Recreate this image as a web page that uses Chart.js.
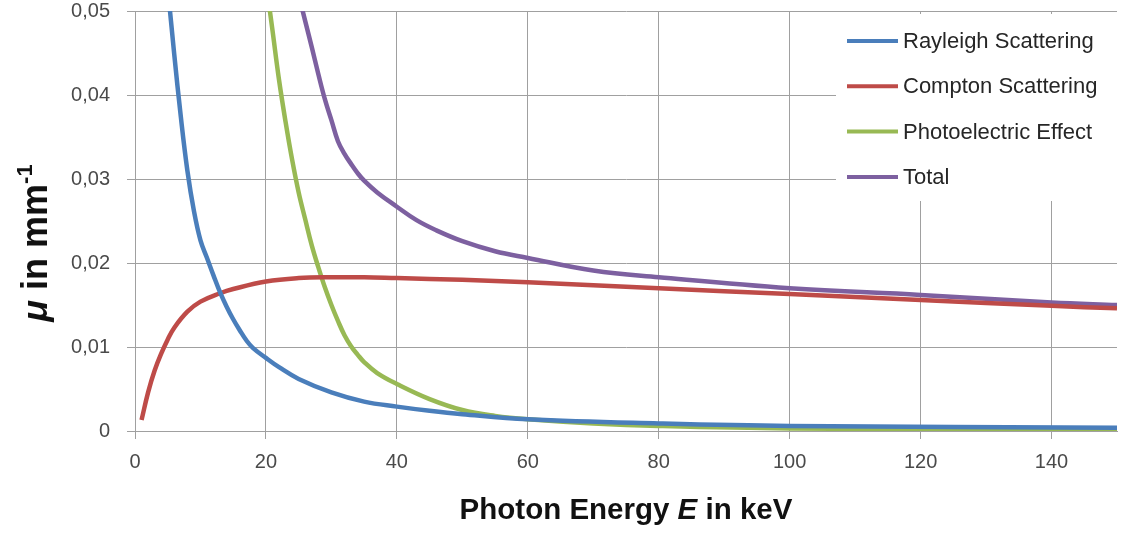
<!DOCTYPE html>
<html lang="en">
<head>
<meta charset="UTF-8">
<title>Attenuation coefficients</title>
<script src="https://cdn.jsdelivr.net/npm/chart.js"></script>
<style>
  html, body { margin: 0; padding: 0; background: #fff; }
</style>
</head>
<body>
<canvas id="muChart" width="1121" height="533"></canvas>
<script>
// photon energy (keV) and linear attenuation coefficient (1/mm) per interaction
const rayleighEnergy = [5, 6, 7, 8, 9, 10, 11, 12, 13, 14, 15, 16, 17, 18, 20, 22, 25, 30, 35, 40, 45, 50, 60, 80, 100, 150];
const rayleighMu = [0.0528, 0.0448, 0.0374, 0.0310, 0.0262, 0.0227, 0.0206, 0.0185, 0.0165, 0.0148, 0.0133, 0.0120, 0.0108, 0.0099, 0.0087, 0.0076, 0.0062, 0.0046, 0.0035, 0.0029, 0.0024, 0.0020, 0.0014, 0.0009, 0.0006, 0.0004];

const comptonEnergy = [1, 2, 3, 4, 5, 6, 8, 10, 13, 15, 20, 25, 30, 35, 40, 50, 60, 80, 100, 120, 140, 150];
const comptonMu = [0.0013, 0.0046, 0.0072, 0.0092, 0.0109, 0.0123, 0.0142, 0.0154, 0.0164, 0.0169, 0.0178, 0.0182, 0.0183, 0.0183, 0.0182, 0.0180, 0.0177, 0.0170, 0.0163, 0.0156, 0.0149, 0.0146];

const photoEnergy = [20, 21, 22, 23, 24, 25, 26, 27, 28, 29, 30, 31, 32, 33, 34, 35, 37, 40, 45, 50, 55, 60, 70, 80, 100, 150];
const photoMu = [0.0535, 0.0477, 0.0418, 0.0368, 0.0323, 0.0284, 0.0252, 0.0221, 0.0195, 0.0171, 0.0150, 0.0131, 0.0114, 0.0101, 0.0091, 0.0082, 0.0069, 0.0056, 0.0038, 0.0025, 0.0018, 0.0014, 0.0009, 0.0006, 0.0003, 0.0001];

const totalEnergy = [25, 26, 27, 28, 29, 30, 31, 32, 33, 34, 35, 37, 40, 43, 46, 50, 55, 60, 70, 80, 100, 120, 140, 150];
const totalMu = [0.0519, 0.0488, 0.0457, 0.0425, 0.0395, 0.0370, 0.0345, 0.0330, 0.0318, 0.0307, 0.0298, 0.0284, 0.0267, 0.0251, 0.0239, 0.0226, 0.0214, 0.0206, 0.0191, 0.0183, 0.0170, 0.0162, 0.0153, 0.0150];

const seriesLabels = ['Rayleigh Scattering', 'Compton Scattering', 'Photoelectric Effect', 'Total'];
const seriesColors = ['#4A7EBB', '#BE4B48', '#98B954', '#7D60A0'];

const xTicks = [0, 20, 40, 60, 80, 100, 120, 140];
const yTicks = [0, 0.01, 0.02, 0.03, 0.04, 0.05];

const FONT = '"Liberation Sans", Arial, sans-serif';
const gridColor = '#a0a0a0';
const tickColor = '#4a4a4a';

function toPoints(xs, ys) {
  return xs.map((x, i) => ({ x: x, y: ys[i] }));
}

const seriesData = [
  toPoints(rayleighEnergy, rayleighMu),
  toPoints(comptonEnergy, comptonMu),
  toPoints(photoEnergy, photoMu),
  toPoints(totalEnergy, totalMu)
];

// legend sits in a white box in the upper right corner of the plot
const legendBox = {
  id: 'legendBox',
  afterDatasetsDraw(chart) {
    const { ctx, chartArea } = chart;
    const left = chartArea.right - 281;
    const top = chartArea.top + 3;
    ctx.save();
    ctx.fillStyle = '#ffffff';
    ctx.fillRect(left, top, chartArea.right - left + 4, 187);
    ctx.font = '22px ' + FONT;
    ctx.textBaseline = 'middle';
    chart.data.datasets.forEach((ds, i) => {
      const y = top + 27 + i * 45.3;
      ctx.strokeStyle = ds.borderColor;
      ctx.lineWidth = 4;
      ctx.beginPath();
      ctx.moveTo(left + 11, y);
      ctx.lineTo(left + 62, y);
      ctx.stroke();
      ctx.fillStyle = '#262626';
      ctx.fillText(ds.label, left + 67, y + 1);
    });
    ctx.restore();
  }
};

// axis titles need mixed styles (italic E, superscript exponent)
const axisTitles = {
  id: 'axisTitles',
  afterDraw(chart) {
    const { ctx, chartArea } = chart;
    const bold = '700 29.5px ' + FONT;
    const boldItalic = 'italic 700 29.5px ' + FONT;
    ctx.save();
    ctx.fillStyle = '#111111';
    ctx.textBaseline = 'alphabetic';

    const xParts = [['Photon Energy ', bold], ['E', boldItalic], [' in keV', bold]];
    let w = 0;
    xParts.forEach(p => { ctx.font = p[1]; w += ctx.measureText(p[0]).width; });
    let x = (chartArea.left + chartArea.right) / 2 - w / 2;
    xParts.forEach(p => {
      ctx.font = p[1];
      ctx.fillText(p[0], x, 519);
      x += ctx.measureText(p[0]).width;
    });

    const yParts = [
      ['\u03bc', 'italic 700 36px ' + FONT, 0],
      [' in mm', '700 36px ' + FONT, 0],
      ['-1', '700 22px ' + FONT, -15]
    ];
    w = 0;
    yParts.forEach(p => { ctx.font = p[1]; w += ctx.measureText(p[0]).width; });
    ctx.translate(47, 243);
    ctx.rotate(-Math.PI / 2);
    x = -w / 2;
    yParts.forEach(p => {
      ctx.font = p[1];
      ctx.fillText(p[0], x, p[2]);
      x += ctx.measureText(p[0]).width;
    });
    ctx.restore();
  }
};

new Chart(document.getElementById('muChart'), {
  type: 'line',
  data: {
    datasets: seriesData.map((pts, i) => ({
      label: seriesLabels[i],
      data: pts,
      borderColor: seriesColors[i],
      backgroundColor: seriesColors[i],
      borderWidth: 4.5,
      pointRadius: 0,
      fill: false,
      tension: 0.4
    }))
  },
  options: {
    responsive: false,
    animation: false,
    layout: { padding: { left: 0, right: 4, top: 11, bottom: 0 } },
    plugins: {
      legend: { display: false },
      tooltip: { enabled: false }
    },
    scales: {
      x: {
        type: 'linear',
        min: 0,
        max: 150,
        afterBuildTicks: s => { s.ticks = xTicks.map(v => ({ value: v })); },
        afterFit: s => { s.height = 102; s.paddingLeft = 0; s.paddingRight = 0; },
        grid: { color: gridColor, lineWidth: 1, tickLength: 8 },
        border: { color: gridColor, width: 1 },
        ticks: {
          color: tickColor,
          font: { family: FONT, size: 20 },
          padding: 11,
          maxRotation: 0,
          autoSkip: false
        }
      },
      y: {
        min: 0,
        max: 0.05,
        afterBuildTicks: s => { s.ticks = yTicks.map(v => ({ value: v })); },
        afterFit: s => { s.width = 135; s.paddingTop = 0; s.paddingBottom = 0; },
        grid: { color: gridColor, lineWidth: 1, tickLength: 8 },
        border: { color: gridColor, width: 1 },
        ticks: {
          color: tickColor,
          font: { family: FONT, size: 20 },
          padding: 17,
          callback: v => v === 0 ? '0' : v.toFixed(2).replace('.', ',')
        }
      }
    }
  },
  plugins: [legendBox, axisTitles]
});
</script>
</body>
</html>
